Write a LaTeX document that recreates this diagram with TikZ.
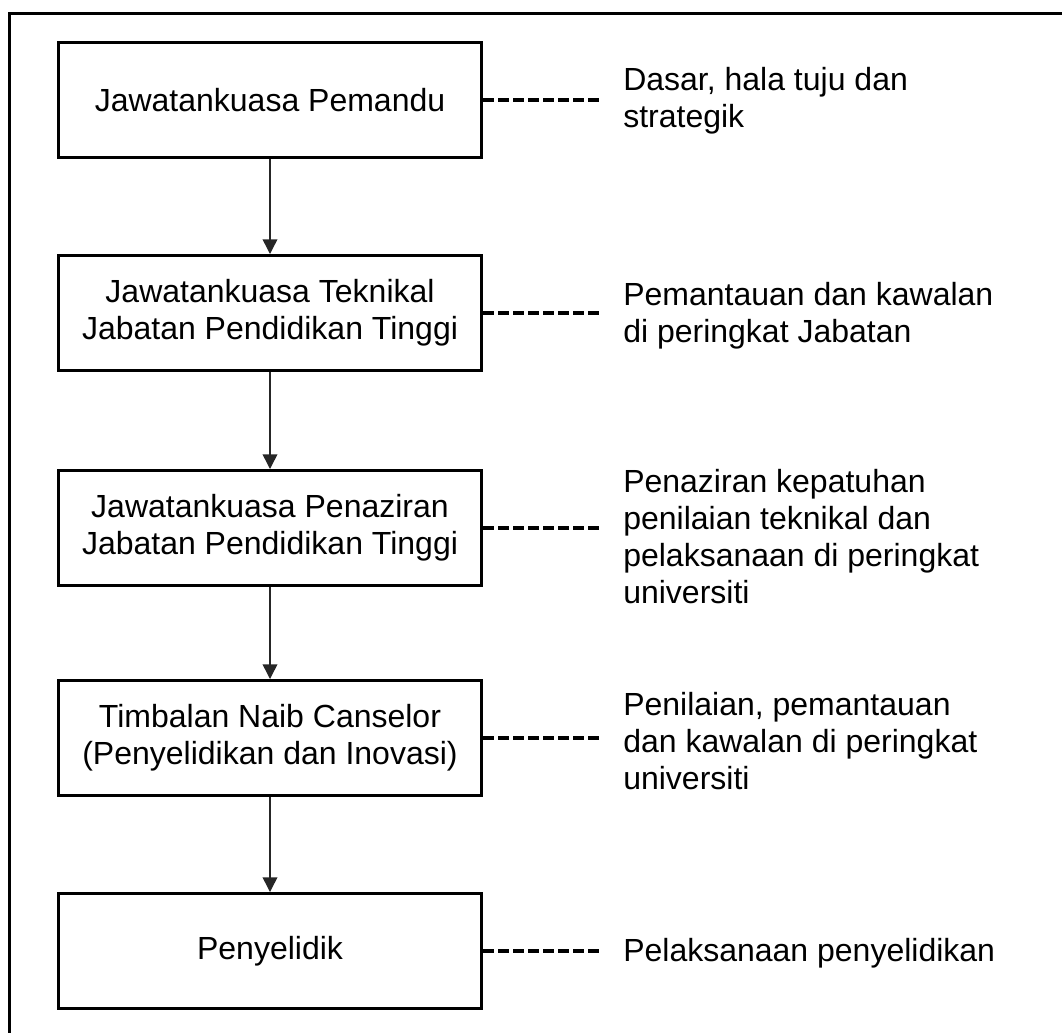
\documentclass[tikz,border=0pt]{standalone}
\usepackage{fontspec}
\setmainfont{Liberation Sans}
\usetikzlibrary{arrows.meta}

\begin{document}
\begin{tikzpicture}[x=0.75pt, y=-0.75pt,
    box/.style={draw, line width=2.25pt, minimum width=317.25pt, minimum height=86.25pt, align=center, font=\fontsize{24}{27.75}\selectfont},
    note/.style={anchor=west, align=left, inner xsep=15.75pt, inner ysep=0pt, font=\fontsize{24}{27.75}\selectfont},
    link/.style={dash pattern=on 8pt off 3.25pt, line width=2.5pt},
    flow/.style={-{Triangle[length=11pt,width=11pt]}, line width=1.1pt, black!85}]
    \useasboundingbox (0,0) rectangle (1062,1032);
    \draw[line width=2.25pt] (9,1045) -- (9,13) -- (1075,13);
    % levels
    \node[box] (b1) at (270,100) {Jawatankuasa Pemandu};
    \node[box] (b2) at (270,313) {Jawatankuasa Teknikal\\Jabatan Pendidikan Tinggi};
    \node[box] (b3) at (270,528) {Jawatankuasa Penaziran\\Jabatan Pendidikan Tinggi};
    \node[box] (b4) at (270,738) {Timbalan Naib Canselor\\(Penyelidikan dan Inovasi)};
    \node[box] (b5) at (270,951) {Penyelidik};
    % roles
    \node[note] (n1) at (602,101) {Dasar, hala tuju dan\\strategik};
    \node[note] (n2) at (602,316) {Pemantauan dan kawalan\\di peringkat Jabatan};
    \node[note] (n3) at (602,537) {Penaziran kepatuhan\\penilaian teknikal dan\\pelaksanaan di peringkat\\universiti};
    \node[note] (n4) at (602,741) {Penilaian, pemantauan\\dan kawalan di peringkat\\universiti};
    \node[note] (n5) at (602,953) {Pelaksanaan penyelidikan};
    \draw[flow] (b1.south) -- (b2.north);
    \draw[flow] (b2.south) -- (b3.north);
    \draw[flow] (b3.south) -- (b4.north);
    \draw[flow] (b4.south) -- (b5.north);
    \draw[link] (b1.east) -- (b1.east -| n1.west);
    \draw[link] (b2.east) -- (b2.east -| n2.west);
    \draw[link] (b3.east) -- (b3.east -| n3.west);
    \draw[link] (b4.east) -- (b4.east -| n4.west);
    \draw[link] (b5.east) -- (b5.east -| n5.west);
\end{tikzpicture}
\end{document}
